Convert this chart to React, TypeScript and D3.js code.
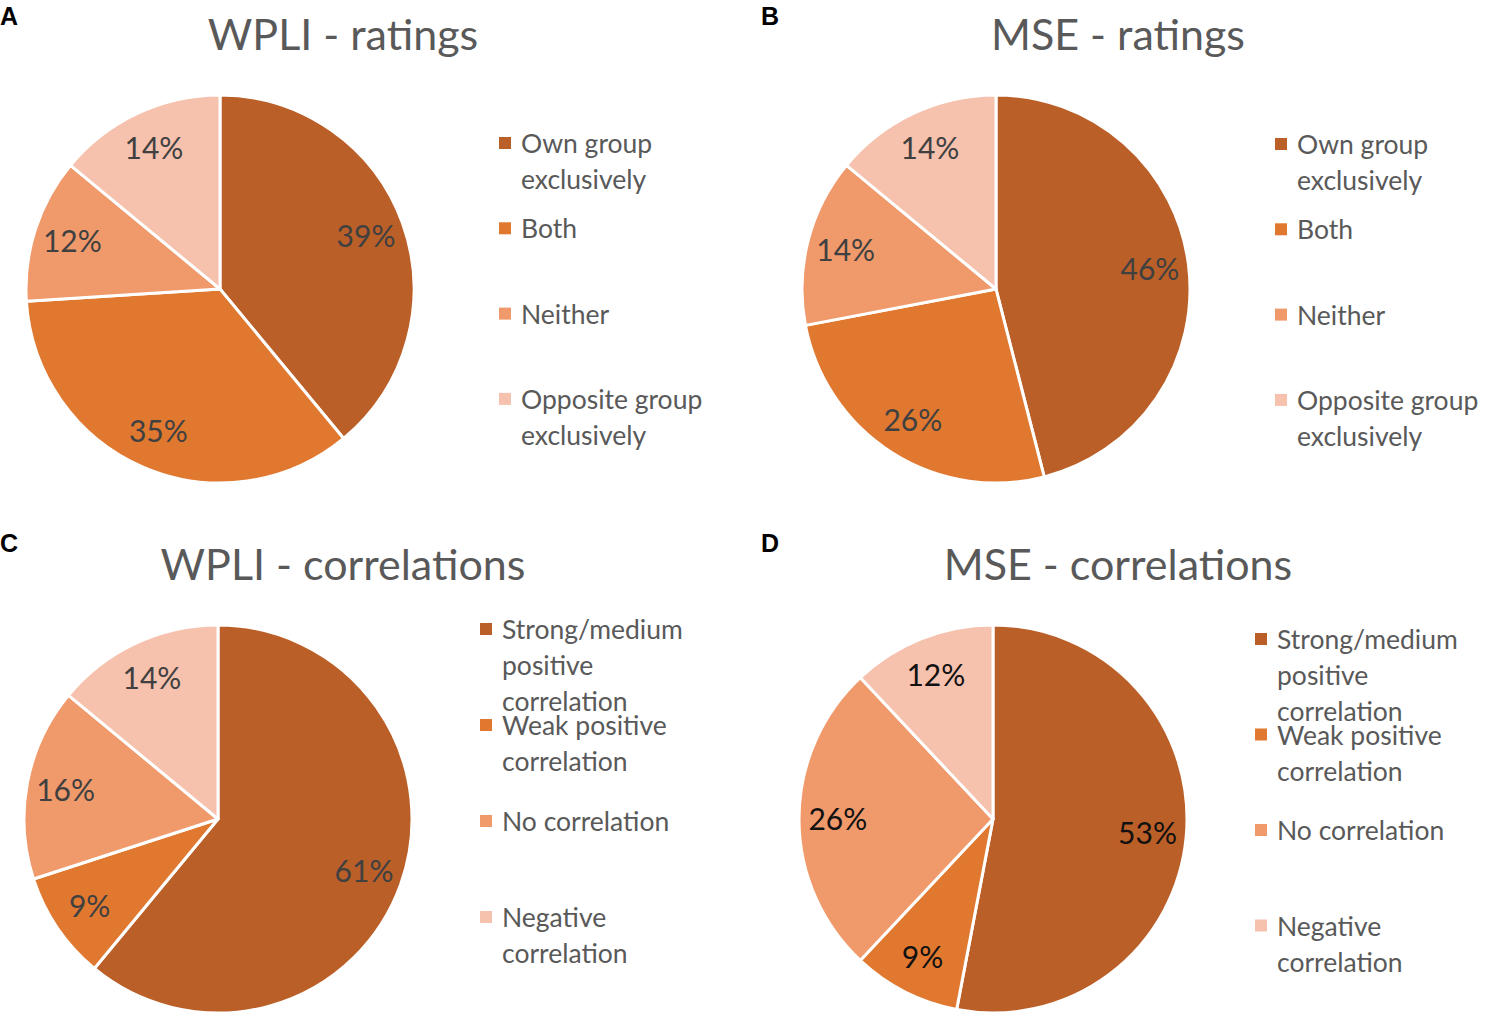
import React from 'react';
import * as d3 from 'd3';

// Data

const ratingCategories = ['Own group exclusively', 'Both', 'Neither', 'Opposite group exclusively'];
const correlationCategories = ['Strong/medium positive correlation', 'Weak positive correlation', 'No correlation', 'Negative correlation'];

// legend lines as Excel wrapped them
const ratingLegendLines = [['Own group', 'exclusively'], ['Both'], ['Neither'], ['Opposite group', 'exclusively']];
const correlationLegendLines = [['Strong/medium', 'positive', 'correlation'], ['Weak positive', 'correlation'], ['No correlation'], ['Negative', 'correlation']];

const wpliRatings = [39, 35, 12, 14];
const mseRatings = [46, 26, 14, 14];
const wpliCorrelations = [61, 9, 16, 14];
const mseCorrelations = [53, 9, 26, 12];

const sliceColors = ['#bb5f28', '#e07830', '#f0996b', '#f6c1ad'];

type Panel = {
    letter: string;
    title: string;
    categories: string[];
    legendLines: string[][];
    values: number[];
    // layout
    cx: number;
    cy: number;
    letterX: number;
    letterY: number;
    titleX: number;
    titleY: number;
    legendX: number;
    legendY: number;
    legendStep: number;
    labelColor: string;
};

const panels: Panel[] = [
    {
        letter: 'A', title: 'WPLI - ratings', categories: ratingCategories, legendLines: ratingLegendLines, values: wpliRatings,
        cx: 220, cy: 289, letterX: 0, letterY: 25, titleX: 343, titleY: 50,
        legendX: 521, legendY: 153, legendStep: 85.3, labelColor: '#404040',
    },
    {
        letter: 'B', title: 'MSE - ratings', categories: ratingCategories, legendLines: ratingLegendLines, values: mseRatings,
        cx: 996, cy: 289, letterX: 761, letterY: 25, titleX: 1118, titleY: 50,
        legendX: 1297, legendY: 154, legendStep: 85.3, labelColor: '#404040',
    },
    {
        letter: 'C', title: 'WPLI - correlations', categories: correlationCategories, legendLines: correlationLegendLines, values: wpliCorrelations,
        cx: 218, cy: 819, letterX: 0, letterY: 552, titleX: 343, titleY: 580,
        legendX: 502, legendY: 639, legendStep: 96, labelColor: '#404040',
    },
    {
        letter: 'D', title: 'MSE - correlations', categories: correlationCategories, legendLines: correlationLegendLines, values: mseCorrelations,
        cx: 993, cy: 819, letterX: 761, letterY: 552, titleX: 1118, titleY: 580,
        legendX: 1277, legendY: 649, legendStep: 95.5, labelColor: '#111111',
    },
];

const radius = 194;
const lineHeight = 36;

const pie = d3.pie<number>().sort(null).value((d) => d);
const arc = d3.arc<d3.PieArcDatum<number>>().innerRadius(0).outerRadius(radius);
const labelArc = d3.arc<d3.PieArcDatum<number>>().innerRadius(radius * 0.8).outerRadius(radius * 0.8);

function PiePanel({ p }: { p: Panel }) {
    const arcs = pie(p.values);
    const color = d3.scaleOrdinal<string, string>().domain(p.categories).range(sliceColors);

    return (
        <g>
            <text x={p.letterX} y={p.letterY} fontFamily="'Liberation Sans', Arial, sans-serif" fontWeight="bold" fontSize={25} fill="#000">
                {p.letter}
            </text>
            <text x={p.titleX} y={p.titleY} textAnchor="middle" fontFamily="Lato, sans-serif" fontSize={43} fill="#595959">
                {p.title}
            </text>

            <g transform={`translate(${p.cx},${p.cy})`}>
                {arcs.map((a, i) => (
                    <path key={i} d={arc(a) || ''} fill={color(p.categories[i])} stroke="#fff" strokeWidth={3} strokeLinejoin="round" />
                ))}
                {arcs.map((a, i) => {
                    const [lx, ly] = labelArc.centroid(a);
                    return (
                        <text key={'l' + i} x={lx} y={ly} dy="0.36em" textAnchor="middle" fontFamily="Lato, sans-serif" fontSize={30} fill={p.labelColor}>
                            {`${a.data}%`}
                        </text>
                    );
                })}
            </g>

            <g fontFamily="Lato, sans-serif" fontSize={26.5} fill="#595959">
                {p.categories.map((c, i) => {
                    const y0 = p.legendY + i * p.legendStep;
                    return (
                        <g key={c}>
                            <rect x={p.legendX - 22} y={y0 - 16} width={12} height={12} fill={color(c)} />
                            {p.legendLines[i].map((line, j) => (
                                <text key={j} x={p.legendX} y={y0 + j * lineHeight}>{line}</text>
                            ))}
                        </g>
                    );
                })}
            </g>
        </g>
    );
}

export default function App() {
    return (
        <svg width={1486} height={1017} style={{ position: 'absolute', left: 0, top: 0, background: '#fff' }}>
            {panels.map((p) => <PiePanel key={p.letter} p={p} />)}
        </svg>
    );
}
